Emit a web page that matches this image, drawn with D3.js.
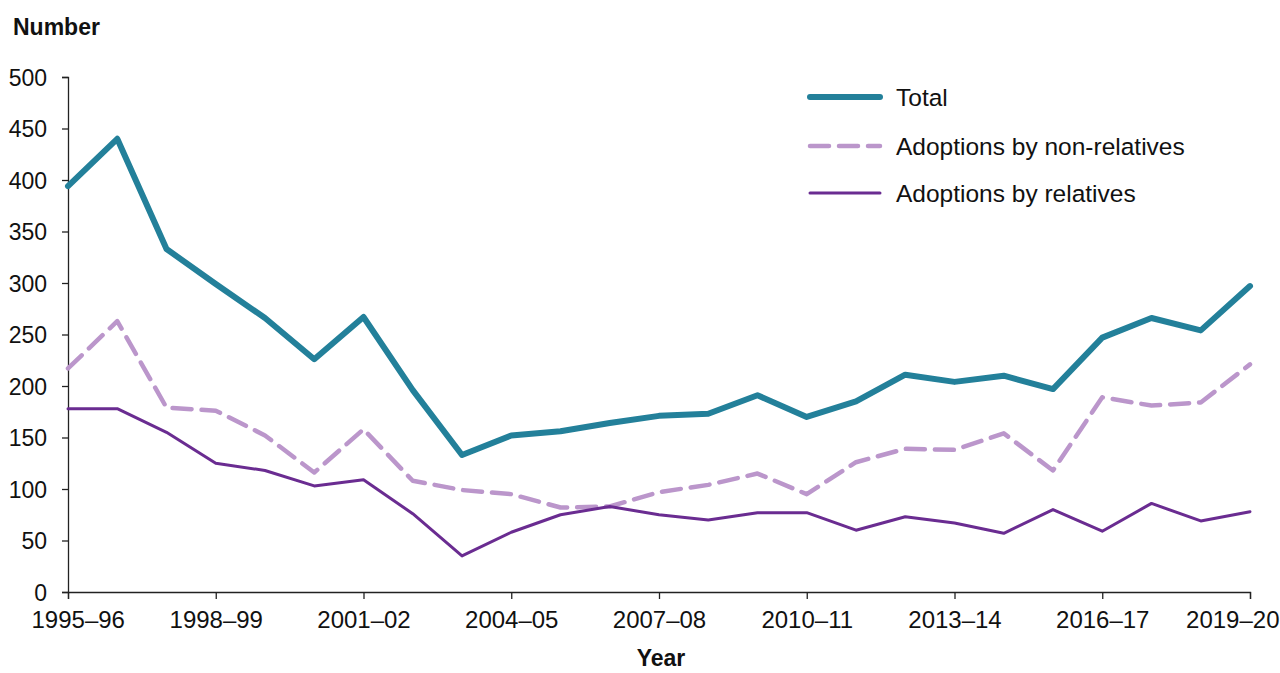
<!DOCTYPE html>
<html lang="en">
  <head>
    <meta charset="utf-8">
    <script type="text/javascript" src="https://d3js.org/d3.v7.min.js"></script>
    <style>
      body { margin: 0; background: white; }
      svg { display: block; font-family: "Liberation Sans", Arial, sans-serif; }
    </style>
  </head>
  <body>
    <script type="text/javascript">

    // Data
    var years = ["1995–96", "1996–97", "1997–98", "1998–99", "1999–00", "2000–01", "2001–02",
                 "2002–03", "2003–04", "2004–05", "2005–06", "2006–07", "2007–08", "2008–09",
                 "2009–10", "2010–11", "2011–12", "2012–13", "2013–14", "2014–15", "2015–16",
                 "2016–17", "2017–18", "2018–19", "2019–20"];
    var total = [394, 440, 333, 299, 266, 226, 267, 196, 133, 152, 156, 164, 171, 173,
                 191, 170, 185, 211, 204, 210, 197, 247, 266, 254, 297];
    var nonRelatives = [217, 263, 179, 176, 152, 116, 158, 108, 99, 95, 82, 83, 97, 104,
                        115, 95, 126, 139, 138, 154, 118, 189, 181, 184, 221];
    var relatives = [178, 178, 155, 125, 118, 103, 109, 76, 35, 58, 75, 83, 75, 70,
                     77, 77, 60, 73, 67, 57, 80, 59, 86, 69, 78];
    var yTicks = [0, 50, 100, 150, 200, 250, 300, 350, 400, 450, 500];
    var xTicks = ["1995–96", "1998–99", "2001–02", "2004–05", "2007–08", "2010–11",
                  "2013–14", "2016–17", "2019–20"];

    var series = [
      {name: "Total", values: total, color: "#23809a", width: 6, dash: null},
      {name: "Adoptions by non-relatives", values: nonRelatives, color: "#bb96cb", width: 4.5, dash: "19,10"},
      {name: "Adoptions by relatives", values: relatives, color: "#6a2c91", width: 3, dash: null}
    ];

    var svgW = 1280;
    var svgH = 673;

    var svg = d3.select("body")
                .append("svg")
                  .attr("width", svgW)
                  .attr("height", svgH);

    // Scales
    var xScale = d3.scalePoint()
                    .domain(years)
                    .range([68, 1250]);

    var yScale = d3.scaleLinear()
                    .domain([0, 500])
                    .range([592, 77]);

    // Axes
    var xAxis = d3.axisBottom(xScale)
                  .tickValues(xTicks)
                  .tickSize(7)
                  .tickPadding(12);

    var yAxis = d3.axisLeft(yScale)
                  .tickValues(yTicks)
                  .tickSize(6)
                  .tickPadding(15);

    var gx = svg.append("g")
                .attr("transform", "translate(0," + yScale(0) + ")")
                .call(xAxis);

    var gy = svg.append("g")
                .attr("transform", "translate(" + xScale(years[0]) + ",0)")
                .call(yAxis);

    [gx, gy].forEach(function(g) {
      g.select(".domain").attr("stroke", "#222").attr("stroke-width", 1.3);
      g.selectAll(".tick line").attr("stroke", "#222").attr("stroke-width", 1.3);
      g.selectAll(".tick text")
        .attr("fill", "#111")
        .style("font-family", "'Liberation Sans', Arial, sans-serif");
    });
    gx.selectAll(".tick text").style("font-size", "24px");
    gy.selectAll(".tick text").style("font-size", "23px").attr("dy", "0.36em");

    // keep the outer year labels inside the page
    gx.selectAll(".tick text")
      .attr("text-anchor", function(d) {
        if (d === xTicks[0]) return "start";
        if (d === xTicks[xTicks.length - 1]) return "end";
        return "middle";
      })
      .attr("dx", function(d) {
        if (d === xTicks[0]) return -37;
        if (d === xTicks[xTicks.length - 1]) return 29;
        return 0;
      });

    // Lines
    var line = d3.line()
                  .x(function(d, i) { return xScale(years[i]); })
                  .y(function(d) { return yScale(d); });

    series.forEach(function(s) {
      svg.append("path")
          .datum(s.values)
          .attr("fill", "none")
          .attr("stroke", s.color)
          .attr("stroke-width", s.width)
          .attr("stroke-linejoin", "round")
          .attr("stroke-linecap", "round")
          .attr("stroke-dasharray", s.dash)
          .attr("d", line);
    });

    // Axis titles
    svg.append("text")
        .attr("x", 13)
        .attr("y", 35)
        .style("font-size", "23px")
        .style("font-weight", "bold")
        .attr("fill", "#111")
        .text("Number");

    svg.append("text")
        .attr("x", 661)
        .attr("y", 666)
        .attr("text-anchor", "middle")
        .style("font-size", "23px")
        .style("font-weight", "bold")
        .attr("fill", "#111")
        .text("Year");

    // Legend
    var legend = svg.append("g")
                    .attr("transform", "translate(810,0)");

    var legendY = [97, 146, 193];

    series.forEach(function(s, i) {
      legend.append("line")
            .attr("x1", 0)
            .attr("x2", 70)
            .attr("y1", legendY[i])
            .attr("y2", legendY[i])
            .attr("stroke", s.color)
            .attr("stroke-width", s.width)
            .attr("stroke-linecap", "round")
            .attr("stroke-dasharray", s.dash);
      legend.append("text")
            .attr("x", 86)
            .attr("y", legendY[i])
            .attr("dy", "0.36em")
            .style("font-size", "24.5px")
            .attr("fill", "#111")
            .text(s.name);
    });
    </script>
  </body>
</html>
